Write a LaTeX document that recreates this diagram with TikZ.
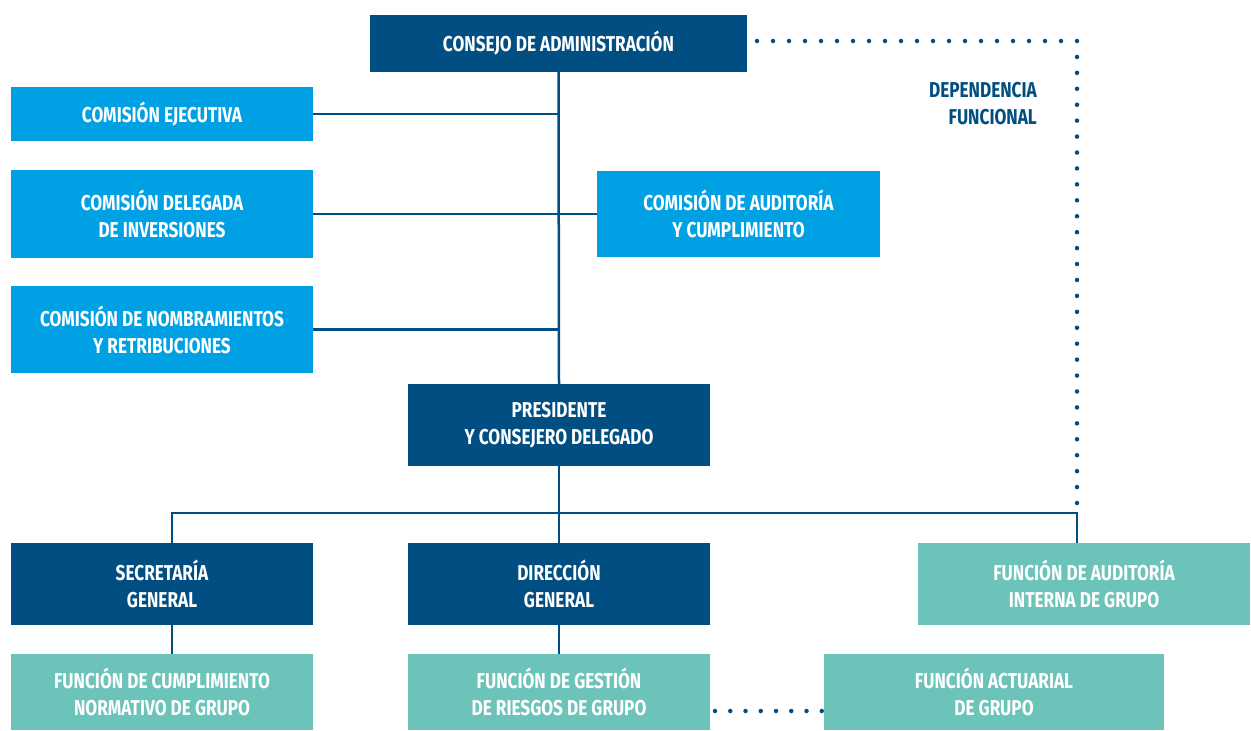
\documentclass[tikz,border=0pt]{standalone}
\usepackage{fontspec}
\setmainfont[FakeStretch=0.8]{Fira Sans}
\definecolor{dkblue}{RGB}{0,78,130}
\definecolor{ltblue}{RGB}{0,161,228}
\definecolor{teal2}{RGB}{108,195,185}
\tikzset{
  box/.style={rectangle, inner sep=0pt, text=white, align=center,
    font=\fontsize{21.5}{27}\selectfont\bfseries},
  darkbox/.style={box, fill=dkblue},
  lightbox/.style={box, fill=ltblue},
  tealbox/.style={box, fill=teal2},
  conn/.style={draw=dkblue, line width=2.5pt},
  dotline/.style={draw=dkblue, line width=4.5pt, line cap=round},
}
\begin{document}
\begin{tikzpicture}[x=1pt,y=-1pt]
\useasboundingbox (0,0) rectangle (1251,731);
\fill[white] (0,0) rectangle (1251,731);
% boxes
\node[darkbox, minimum width=377pt, minimum height=57pt] (consejo) at (558.5,43.5) {CONSEJO DE ADMINISTRACIÓN};
\node[lightbox, minimum width=302pt, minimum height=54pt] (ejec) at (162,114) {COMISIÓN EJECUTIVA};
\node[lightbox, minimum width=302pt, minimum height=88pt] (deleg) at (162,214) {COMISIÓN DELEGADA\\DE INVERSIONES};
\node[lightbox, minimum width=283pt, minimum height=86pt] (audit) at (738.5,214) {COMISIÓN DE AUDITORÍA\\Y CUMPLIMIENTO};
\node[lightbox, minimum width=302pt, minimum height=87pt] (nombr) at (162,329.5) {COMISIÓN DE NOMBRAMIENTOS\\Y RETRIBUCIONES};
\node[darkbox, minimum width=302pt, minimum height=82pt] (pres) at (559,425) {PRESIDENTE\\Y CONSEJERO DELEGADO};
\node[darkbox, minimum width=302pt, minimum height=82pt] (secr) at (162,584) {SECRETARÍA\\GENERAL};
\node[darkbox, minimum width=302pt, minimum height=82pt] (direc) at (559,584) {DIRECCIÓN\\GENERAL};
\node[tealbox, minimum width=332pt, minimum height=82pt] (faudit) at (1084,584) {FUNCIÓN DE AUDITORÍA\\INTERNA DE GRUPO};
\node[tealbox, minimum width=302pt, minimum height=76pt] (fcumpl) at (162,692) {FUNCIÓN DE CUMPLIMIENTO\\NORMATIVO DE GRUPO};
\node[tealbox, minimum width=302pt, minimum height=76pt] (friesg) at (559,692) {FUNCIÓN DE GESTIÓN\\DE RIESGOS DE GRUPO};
\node[tealbox, minimum width=340pt, minimum height=76pt] (factu) at (994,692) {FUNCIÓN ACTUARIAL\\DE GRUPO};
\node[box, text=dkblue, align=right, anchor=east] (dep) at (1037,104) {DEPENDENCIA\\FUNCIONAL};
% coordinates
\coordinate (bus) at (559,513);
\coordinate (busL) at (172,513);
\coordinate (busR) at (1077,513);
\coordinate (dotA) at (757,41);
\coordinate (dotB) at (1077,41);
\coordinate (dotC) at (1077,503);
\coordinate (dotD) at (715,711);
\coordinate (dotE) at (822.5,711);
% connectors
\draw[conn] (consejo.south) -- (pres.north);
\draw[conn] (ejec.east) -- (ejec.east -| consejo.south);
\draw[conn] (deleg.east) -- (audit.west);
\draw[conn] (nombr.east) -- (nombr.east -| consejo.south);
\draw[conn] (pres.south) -- (bus);
\draw[conn] (busL |- secr.north) -- (busL) -- (busR) -- (busR |- faudit.north);
\draw[conn] (bus) -- (direc.north);
\draw[conn] (busL |- secr.south) -- (busL |- fcumpl.north);
\draw[conn] (direc.south) -- (friesg.north);
% dotted
\draw[dotline, dash pattern=on 0pt off 16pt] (dotA) -- (dotB);
\draw[dotline, dash pattern=on 0pt off 15.931pt] (dotB) -- (dotC);
\draw[dotline, dash pattern=on 0pt off 15.25pt] (dotD) -- (dotE);
\end{tikzpicture}
\end{document}
